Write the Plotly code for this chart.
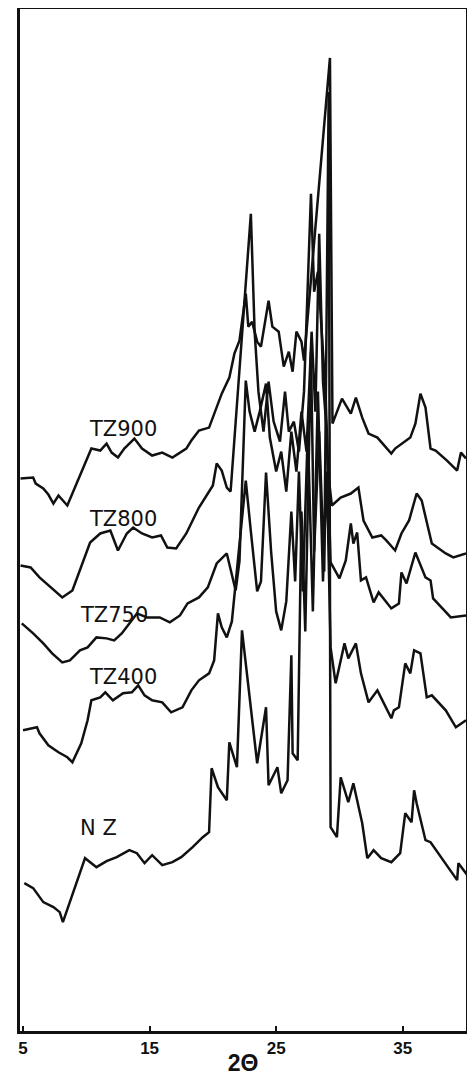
import plotly.graph_objects as go

# 2-theta positions and intensities (arbitrary units, stacked traces)
tz900_x = [4.8, 5.8, 6.0, 6.6, 7.0, 7.4, 7.8, 8.5, 10.4, 11.1, 11.6, 12.0, 12.5, 13.0, 13.8, 14.4, 15.2, 16.0, 16.8, 17.9, 18.3, 18.9, 19.7, 20.7, 21.3, 21.7, 22.1, 22.6, 22.8, 23.1, 23.5, 23.8, 24.4, 24.7, 25.2, 25.6, 26.0, 26.3, 26.6, 27.0, 27.2, 29.25, 29.45, 30.2, 30.9, 31.3, 31.8, 32.3, 33.0, 34.1, 34.4, 35.6, 36.0, 36.4, 36.8, 37.2, 37.6, 38.5, 39.3, 39.6, 40.0]
tz900_y = [553, 554, 548, 543, 537, 528, 536, 526, 583, 581, 588, 579, 574, 583, 593, 583, 576, 579, 574, 583, 591, 601, 604, 638, 654, 678, 691, 738, 705, 710, 690, 685, 731, 705, 700, 665, 680, 660, 700, 690, 671, 974, 608, 633, 618, 634, 614, 598, 594, 578, 583, 594, 608, 638, 624, 583, 581, 571, 561, 579, 573]

tz800_x = [4.8, 5.6, 6.3, 8.1, 8.9, 9.5, 10.3, 11.1, 11.9, 12.5, 13.2, 13.7, 14.4, 15.2, 15.9, 16.4, 17.1, 17.9, 18.9, 20.0, 20.3, 20.7, 21.1, 21.4, 23.0, 23.3, 23.6, 24.0, 24.4, 24.8, 25.3, 25.7, 26.0, 26.4, 26.8, 27.2, 27.75, 28.0, 28.3, 28.6, 28.9, 29.1, 29.4, 30.1, 30.9, 31.5, 31.9, 32.6, 33.3, 33.7, 34.4, 34.9, 35.5, 36.1, 36.5, 37.0, 37.3, 38.4, 39.0, 40.0]
tz800_y = [466, 464, 454, 434, 441, 461, 489, 498, 501, 481, 498, 504, 498, 494, 496, 484, 483, 498, 524, 546, 568, 561, 544, 540, 818, 700, 640, 600, 650, 610, 590, 640, 600, 610, 580, 640, 838, 740, 760, 700, 640, 560, 526, 534, 538, 544, 511, 494, 496, 491, 481, 498, 511, 538, 531, 504, 488, 478, 474, 478]

tz750_x = [4.9, 5.8, 6.6, 7.3, 8.1, 8.7, 9.5, 10.1, 10.8, 11.6, 12.2, 12.8, 13.4, 14.0, 14.8, 15.8, 16.6, 17.4, 18.0, 18.9, 19.6, 20.3, 21.1, 21.5, 21.8, 22.1, 22.6, 22.9, 23.3, 23.7, 24.2, 24.5, 25.0, 25.4, 25.8, 26.2, 26.6, 27.0, 27.4, 27.8, 28.1, 28.4, 28.7, 29.0, 29.3, 30.0, 30.5, 30.9, 31.1, 31.4, 31.7, 32.1, 32.7, 33.1, 34.1, 34.7, 34.9, 35.3, 36.0, 36.8, 37.2, 37.4, 38.8, 40.0]
tz750_y = [408, 398, 388, 378, 369, 371, 381, 384, 394, 393, 391, 398, 408, 418, 414, 414, 409, 416, 428, 434, 444, 468, 478, 458, 441, 470, 651, 620, 600, 620, 648, 594, 560, 580, 540, 600, 560, 620, 580, 700, 620, 798, 650, 600, 469, 453, 471, 508, 488, 499, 451, 454, 429, 439, 423, 428, 459, 448, 479, 454, 451, 433, 414, 416]

tz400_x = [5.0, 6.1, 6.3, 7.0, 7.8, 8.5, 8.9, 9.3, 9.6, 10.1, 10.4, 11.1, 11.5, 12.1, 12.9, 13.6, 14.1, 14.6, 15.2, 16.0, 16.7, 17.6, 18.3, 18.9, 19.7, 20.1, 20.4, 20.7, 21.1, 21.5, 22.6, 23.0, 23.5, 23.8, 24.2, 24.6, 25.0, 25.4, 25.8, 26.2, 26.5, 26.8, 27.1, 27.5, 27.9, 28.3, 28.7, 29.0, 29.3, 29.7, 30.4, 30.7, 31.3, 31.7, 32.3, 33.0, 34.1, 34.3, 34.7, 35.2, 35.6, 35.9, 36.4, 36.9, 37.3, 38.4, 39.2, 40.0]
tz400_y = [301, 304, 298, 286, 279, 274, 269, 279, 288, 311, 331, 334, 339, 331, 338, 339, 346, 336, 331, 329, 319, 324, 341, 351, 358, 371, 418, 404, 394, 410, 551, 500, 440, 450, 559, 480, 420, 401, 430, 520, 450, 560, 440, 600, 420, 640, 450, 560, 384, 348, 388, 373, 388, 358, 329, 341, 313, 321, 324, 368, 358, 381, 378, 334, 336, 321, 304, 311]

nz_x = [5.1, 5.8, 6.6, 7.4, 7.9, 8.15, 9.9, 10.8, 11.6, 12.4, 13.4, 14.0, 14.6, 15.2, 16.0, 16.8, 17.5, 18.4, 19.2, 19.7, 19.9, 20.4, 21.1, 21.3, 21.9, 22.3, 23.5, 24.2, 24.4, 25.1, 25.4, 25.9, 26.2, 26.3, 26.7, 27.0, 27.3, 27.75, 28.0, 28.4, 28.8, 29.15, 29.3, 29.8, 30.1, 30.7, 31.1, 31.8, 32.2, 32.7, 33.3, 34.1, 34.8, 35.2, 35.7, 35.9, 36.1, 36.8, 37.2, 38.2, 39.3, 39.4, 39.8, 40.1]
nz_y = [148, 143, 129, 124, 119, 109, 173, 164, 170, 174, 181, 178, 168, 176, 166, 169, 174, 184, 194, 199, 263, 244, 231, 289, 264, 401, 268, 324, 246, 264, 238, 251, 376, 278, 271, 520, 400, 680, 480, 600, 460, 940, 204, 194, 254, 229, 248, 208, 173, 181, 173, 169, 178, 218, 209, 241, 228, 191, 189, 171, 151, 168, 161, 156]

series = [
    ("TZ900", tz900_x, tz900_y),
    ("TZ800", tz800_x, tz800_y),
    ("TZ750", tz750_x, tz750_y),
    ("TZ400", tz400_x, tz400_y),
    ("NZ", nz_x, nz_y),
]

# label anchor positions (2-theta, intensity)
label_names = ["TZ900", "TZ800", "TZ750", "TZ400", "N Z"]
label_x = [12.9, 12.9, 12.2, 12.9, 11.0]
label_y = [603, 513, 416, 354, 203]

tick_vals = [5, 15, 25, 35]
tick_text = ["<b>5</b>", "<b>15</b>", "<b>25</b>", "<b>35</b>"]

fig = go.Figure()
for name, xs, ys in series:
    fig.add_trace(go.Scatter(x=xs, y=ys, mode="lines", name=name,
                             line=dict(color="#111111", width=2.5),
                             showlegend=False, hoverinfo="skip"))

for t, lx, ly in zip(label_names, label_x, label_y):
    fig.add_annotation(x=lx, y=ly, text=t, showarrow=False,
                       font=dict(family="DejaVu Sans", size=21, color="#111111"),
                       xanchor="center", yanchor="middle")

fig.update_layout(
    width=459, height=1068,
    margin=dict(l=12, r=1, t=1, b=45),
    paper_bgcolor="white", plot_bgcolor="white",
    xaxis=dict(range=[4.76, 40.0], tickvals=tick_vals, ticktext=tick_text,
               ticks="inside", ticklen=5, tickwidth=2, tickcolor="#111111",
               showgrid=False, zeroline=False, showline=True, linecolor="#111111",
               linewidth=2.5, mirror=True, automargin=False,
               tickfont=dict(family="Liberation Sans, Arial", size=17, color="#111111"),
               title=dict(text="<b>2Θ</b>", standoff=0,
                          font=dict(family="Liberation Sans, Arial", size=23, color="#111111"))),
    yaxis=dict(range=[0, 1023], showticklabels=False, ticks="", showgrid=False,
               zeroline=False, showline=True, linecolor="#111111", linewidth=2.5,
               mirror=True, automargin=False),
)

fig.write_html("out.html")
